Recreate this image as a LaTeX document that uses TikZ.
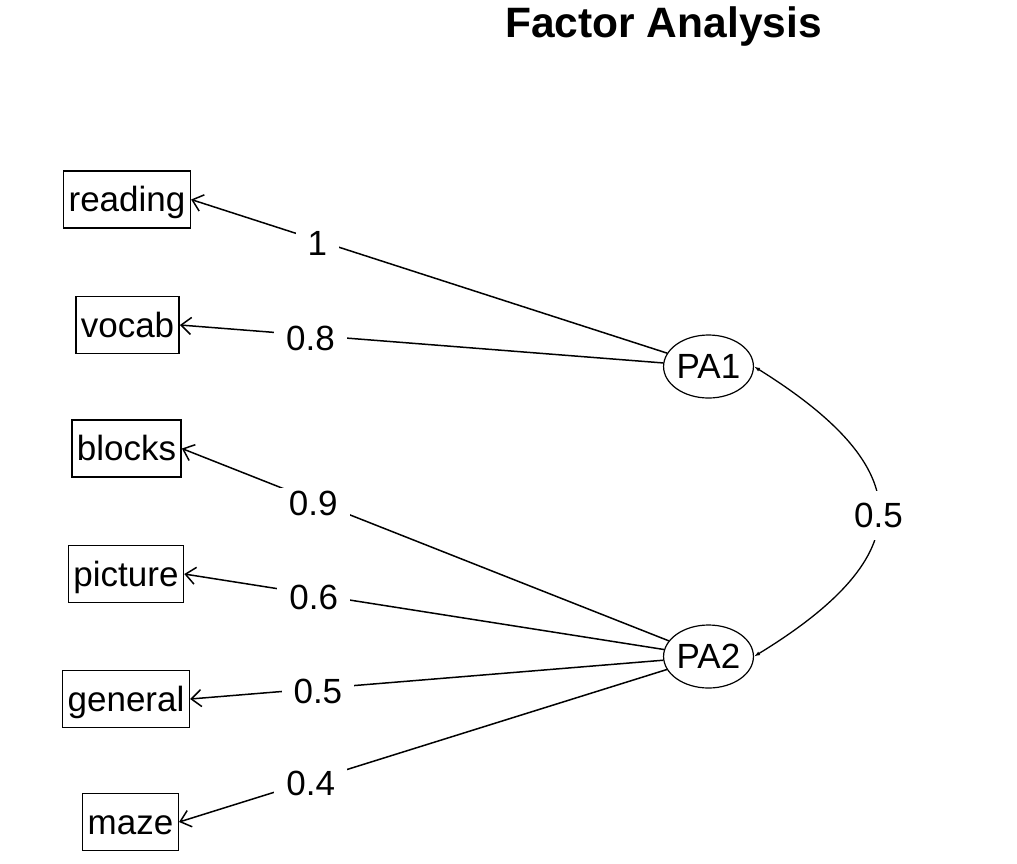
\documentclass[tikz,border=0pt]{standalone}
\usepackage{fontspec}
\setmainfont{Liberation Sans}
\usetikzlibrary{arrows.meta,shapes.geometric}
\begin{document}
\begin{tikzpicture}[x=1pt,y=-1pt,
  var/.style={draw,line width=1.5pt,rectangle,inner xsep=5pt,inner ysep=0pt,text height=30pt,text depth=5.4pt,minimum height=57pt,font=\fontsize{35}{40}\selectfont},
  fac/.style={draw,line width=1.2pt,ellipse,inner sep=0pt,text height=27pt,text depth=3pt,minimum width=81pt,minimum height=63pt,font=\fontsize{35}{40}\selectfont},
  load/.style={line width=1.5pt,-{Straight Barb[length=10pt,width=17pt,line width=1.5pt]}},
  lab/.style={fill=white,inner xsep=12pt,inner ysep=3pt,yshift=-3pt,font=\fontsize{35}{40}\selectfont},
  corr/.style={line width=1.3pt,{Latex[length=6pt,width=4pt]}-{Latex[length=6pt,width=4pt]}}]
\useasboundingbox[fill=white] (0,0) rectangle (1017,863);
\node[font=\bfseries\fontsize{42.5}{48}\selectfont] (title) at (663.5,27) {Factor Analysis};
\node[var] (reading) at (127,199.5) {reading};
\node[var] (vocab) at (127.5,325) {vocab};
\node[var] (blocks) at (126.5,448.5) {blocks};
\node[var] (picture) at (126,574) {picture};
\node[var] (general) at (126,699) {general};
\node[var] (maze) at (130.5,822) {maze};
\node[fac] (PA1) at (708.5,366.5) {PA1};
\node[fac] (PA2) at (708.5,656.5) {PA2};
\draw[load] (PA1) -- node[lab,pos=0.735] {1} (reading.east);
\draw[load] (PA1) -- node[lab,pos=0.73] {0.8} (vocab.east);
\draw[load] (PA2) -- node[lab,pos=0.73] {0.9} (blocks.east);
\draw[load] (PA2) -- node[lab,pos=0.73] {0.6} (picture.east);
\draw[load] (PA2) -- node[lab,pos=0.73] {0.5} (general.east);
\draw[load] (PA2) -- node[lab,pos=0.73] {0.4} (maze.east);
\draw[corr] (PA1.east) .. controls (920,470) and (920,555) .. node[lab,pos=0.5,inner xsep=3pt,inner ysep=12pt] {0.5} (PA2.east);
\end{tikzpicture}
\end{document}
